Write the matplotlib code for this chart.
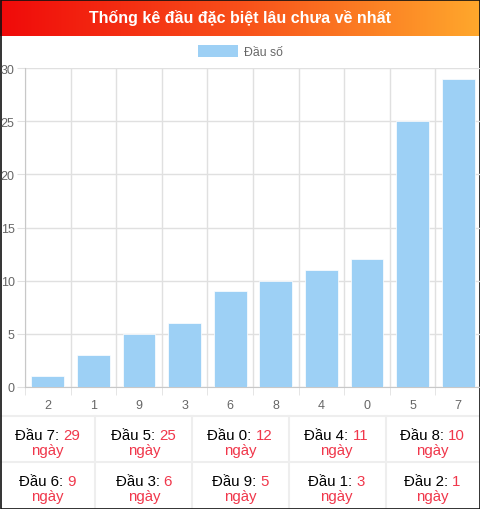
"""
Thống kê đầu đặc biệt lâu chưa về nhất - biểu đồ cột + bảng.
"""
import numpy as np
import matplotlib
matplotlib.use("Agg")
import matplotlib.pyplot as plt
from matplotlib.colors import LinearSegmentedColormap
from matplotlib.ticker import FixedLocator

plt.rcParams['font.family'] = ['Liberation Sans', 'DejaVu Sans']

# datos
dau = ['2', '1', '9', '3', '6', '8', '4', '0', '5', '7']
so_ngay = [1, 3, 5, 6, 9, 10, 11, 12, 25, 29]
tieu_de = "Thống kê đầu đặc biệt lâu chưa về nhất"
nhan_legend = "Đầu số"

W, H = 481, 510
MAU_COT = "#9dd0f5"
MAU_DO = "#f0374b"
MAU_XAM = "#666666"
MAU_LUOI = "#e0e0e0"

fig = plt.figure(figsize=(W / 100, H / 100), dpi=100)

# capa de fondo en píxeles
bg = fig.add_axes([0, 0, 1, 1])
bg.set_xlim(0, W)
bg.set_ylim(H, 0)
bg.axis("off")

# cabecera con degradado
cmap = LinearSegmentedColormap.from_list("hdr", ["#f00a0a", "#f8501a", "#ffa82c"])
grad = np.linspace(0, 1, 256).reshape(1, -1)
bg.imshow(grad, cmap=cmap, aspect="auto", extent=(0, W, 37, 0), zorder=0)
bg.text(W / 2, 18.5, tieu_de, color="white", fontsize=11.5, fontweight="bold",
        ha="center", va="center")

# leyenda
bg.add_patch(plt.Rectangle((198, 46), 40, 12, color=MAU_COT, lw=0))
bg.text(244, 52.5, nhan_legend, color=MAU_XAM, fontsize=8.8, ha="left", va="center")

# tabla
y_top, y_mid = 417, 463
for y in (y_top, y_mid):
    bg.plot([0, W], [y, y], color="#eeeeee", lw=1.5)
for x in (95, 192, 289, 386):
    bg.plot([x, x], [y_top, H], color="#eeeeee", lw=1.5)

orden = sorted(zip(dau, so_ngay), key=lambda p: -p[1])
renderer = fig.canvas.get_renderer()
col_w = W / 5
for i, (d, n) in enumerate(orden):
    fila, col = divmod(i, 5)
    cx = col * col_w + col_w / 2 - 0.5
    y1 = 436.5 + fila * 46
    t1 = bg.text(0, y1, f"Đầu {d}: ", color="black", fontsize=10.8, ha="left", va="center")
    t2 = bg.text(0, y1, str(n), color=MAU_DO, fontsize=10.8, ha="left", va="center")
    w1 = t1.get_window_extent(renderer).width
    w2 = t2.get_window_extent(renderer).width
    x0 = cx - (w1 + w2) / 2
    t1.set_x(x0)
    t2.set_x(x0 + w1)
    bg.text(cx, y1 + 15, "ngày", color=MAU_DO, fontsize=10.8, ha="center", va="center")

# borde
bg.add_patch(plt.Rectangle((0.5, 0.5), W - 1, H - 1, fill=False, ec="#111111", lw=1.2, zorder=5))

# gráfico de barras
L, R, T, B = 25, 481, 69, 388
ax = fig.add_axes([L / W, (H - B) / H, (R - L) / W, (B - T) / H])
ax.set_facecolor("none")
x = np.arange(len(dau))
ax.bar(x, so_ngay, width=0.72, color=MAU_COT, edgecolor="white", linewidth=0.5, zorder=3)
ax.set_xlim(-0.5, len(dau) - 0.5)
ax.set_ylim(0, 30)
ax.set_yticks(range(0, 31, 5))
ax.set_xticks(x)
ax.set_xticklabels(dau)
ax.xaxis.set_minor_locator(FixedLocator(np.arange(-0.5, len(dau), 1.0)))

ax.grid(True, axis="y", color=MAU_LUOI, lw=1, zorder=0)
ax.grid(True, axis="x", which="minor", color=MAU_LUOI, lw=1, zorder=0)
ax.tick_params(axis="y", length=6, color=MAU_LUOI, labelcolor=MAU_XAM, labelsize=9, pad=1.5)
ax.tick_params(axis="x", which="major", length=0, labelcolor=MAU_XAM, labelsize=9, pad=9)
ax.tick_params(axis="x", which="minor", length=6, color=MAU_LUOI)
for s in ("top", "right"):
    ax.spines[s].set_visible(False)
ax.spines["left"].set_color("#c8c8c8")
ax.spines["bottom"].set_color("#c8c8c8")

fig.savefig("out.png", dpi=100)
